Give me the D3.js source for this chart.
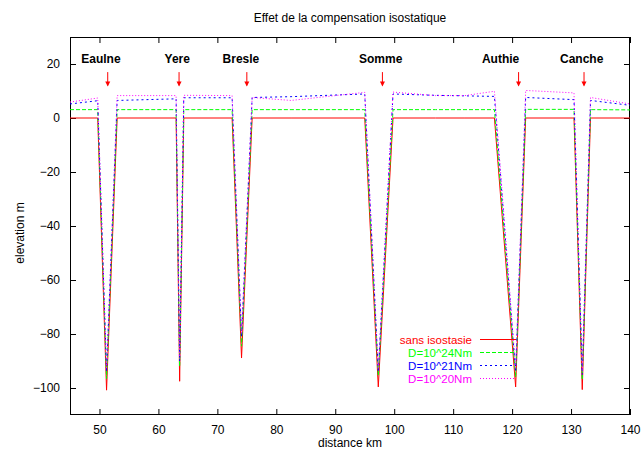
<!DOCTYPE html>
<html><head><meta charset="utf-8">
<script src="https://cdn.jsdelivr.net/npm/d3@7"></script>
<style>
body{margin:0;background:#fff;}
text{font-family:"Liberation Sans",Arial,Helvetica,sans-serif;}
</style></head>
<body><svg id="c" width="644" height="453"></svg>
<script>
// ---- data ----
const distanceKm = [45, 49.7, 51.2, 53.0, 63.0, 63.6, 64.3, 72.5, 74.1, 75.9, 82.5, 95.0, 97.3, 99.8, 107, 112, 117.0, 120.6, 122.3, 130.5, 131.9, 133.3, 140];
const sansIsostasie = [0, 0, -100.8, 0, 0, -97.5, 0, 0, -88.9, 0, 0, 0, -99.6, 0, 0, 0, 0, -99.6, 0, 0, -100.6, 0, 0];
const d24 = [3.1, 3.1, -96.5, 3.1, 3.1, -92, 3.1, 3.1, -84.5, 3.1, 3.1, 3.1, -95.5, 3.1, 3.1, 3.1, 3.1, -96, 3.2, 3.2, -97, 3.1, 3.0];
const d21 = [5.2, 6.4, -94, 6.5, 7.1, -90, 7.5, 7.5, -81, 7.6, 7.9, 8.9, -94, 8.9, 8.4, 8.2, 8.0, -94, 7.6, 6.8, -95, 6.5, 4.7];
const d20 = [5.9, 7.4, -93, 8.3, 8.3, -89, 8.4, 8.3, -80, 7.6, 6.5, 9.5, -93, 9.6, 8.3, 8.3, 9.9, -93, 10.2, 9.3, -94, 7.6, 5.2];
const seriesNames = ["sans isostasie", "D=10^24Nm", "D=10^21Nm", "D=10^20Nm"];
const riverNames = ["Eaulne", "Yere", "Bresle", "Somme", "Authie", "Canche"];
const riverLabelX = [50.25, 63.2, 74.0, 97.7, 118.05, 131.8];
const riverArrowX = [51.4, 63.5, 75.0, 98.0, 121.1, 132.2];
const xTicks = [50, 60, 70, 80, 90, 100, 110, 120, 130, 140];
const yTicks = [-100, -80, -60, -40, -20, 0, 20];

// ---- layout ----
const svg = d3.select("#c");
const L = 70, R = 630, T = 37, B = 415;
const x = d3.scaleLinear().domain([45, 140]).range([L, R]);
const y = d3.scaleLinear().domain([-110, 30]).range([B, T]);

svg.append("defs").append("clipPath").attr("id","clip")
  .append("rect").attr("x",L).attr("y",T).attr("width",R-L).attr("height",B-T);

// title & labels
svg.append("text").attr("x",350).attr("y",22).attr("text-anchor","middle")
  .attr("font-size",12).text("Effet de la compensation isostatique");
svg.append("text").attr("x",350).attr("y",447).attr("text-anchor","middle")
  .attr("font-size",12).text("distance km");
svg.append("text").attr("transform","translate(24,233) rotate(-90)").attr("text-anchor","middle")
  .attr("font-size",12).text("elevation m");

// axes
const tl = 6;
const gx = svg.append("g").attr("transform",`translate(0,${B})`)
  .call(d3.axisBottom(x).tickValues(xTicks).tickSizeInner(-tl).tickSizeOuter(0).tickPadding(10));
const gx2 = svg.append("g").attr("transform",`translate(0,${T})`)
  .call(d3.axisTop(x).tickValues(xTicks).tickSizeInner(-tl).tickSizeOuter(0).tickFormat(""));
const gy = svg.append("g").attr("transform",`translate(${L},0)`)
  .call(d3.axisLeft(y).tickValues(yTicks).tickSizeInner(-tl).tickSizeOuter(0).tickPadding(10));
const gy2 = svg.append("g").attr("transform",`translate(${R},0)`)
  .call(d3.axisRight(y).tickValues(yTicks).tickSizeInner(-tl).tickSizeOuter(0).tickFormat(""));
[gx,gx2,gy,gy2].forEach(g=>{
  g.select(".domain").remove();
  g.selectAll("line").attr("stroke","#000");
  g.selectAll("text").attr("font-size",12).attr("fill","#000").attr("font-family","Liberation Sans,Arial,sans-serif");
});
svg.append("rect").attr("x",L+0.5).attr("y",T+0.5).attr("width",R-L-1).attr("height",B-T-1)
  .attr("fill","none").attr("stroke","#000");

// series
const colors = ["#ff0000", "#00ff00", "#0000ff", "#ff00ff"];
const dashes = [null, "4,2", "2,3", "1,2"];
const allSeries = [sansIsostasie, d24, d21, d20];
const line = d3.line().x((d,i)=>x(distanceKm[i])).y(d=>y(d));
const gp = svg.append("g").attr("clip-path","url(#clip)");
allSeries.forEach((s,k)=>{
  gp.append("path").datum(s).attr("d",line).attr("fill","none")
    .attr("stroke",colors[k]).attr("stroke-width",1)
    .attr("stroke-dasharray",dashes[k]);
});

// river labels and arrows
riverNames.forEach((n,i)=>{
  svg.append("text").attr("x",x(riverLabelX[i])).attr("y",y(22)+4.5)
    .attr("text-anchor","middle").attr("font-size",12).attr("font-weight","bold").text(n);
  const ax = x(riverArrowX[i]);
  svg.append("line").attr("x1",ax).attr("x2",ax).attr("y1",y(17)).attr("y2",y(11.7)-1)
    .attr("stroke","#ff0000").attr("stroke-width",1);
  svg.append("path").attr("d",`M${ax-2.5},${y(11.7)-5}L${ax+2.5},${y(11.7)-5}L${ax},${y(11.7)}Z`)
    .attr("fill","#ff0000");
});

// legend
const ly0 = 339.5, lstep = 13;
seriesNames.forEach((n,k)=>{
  const yy = ly0 + k*lstep;
  svg.append("text").attr("x",472).attr("y",yy+4).attr("text-anchor","end")
    .attr("font-size",11.5).attr("fill",colors[k]).text(n);
  svg.append("line").attr("x1",480).attr("x2",516).attr("y1",yy).attr("y2",yy)
    .attr("stroke",colors[k]).attr("stroke-width",1).attr("stroke-dasharray",dashes[k]);
});
</script></body></html>
